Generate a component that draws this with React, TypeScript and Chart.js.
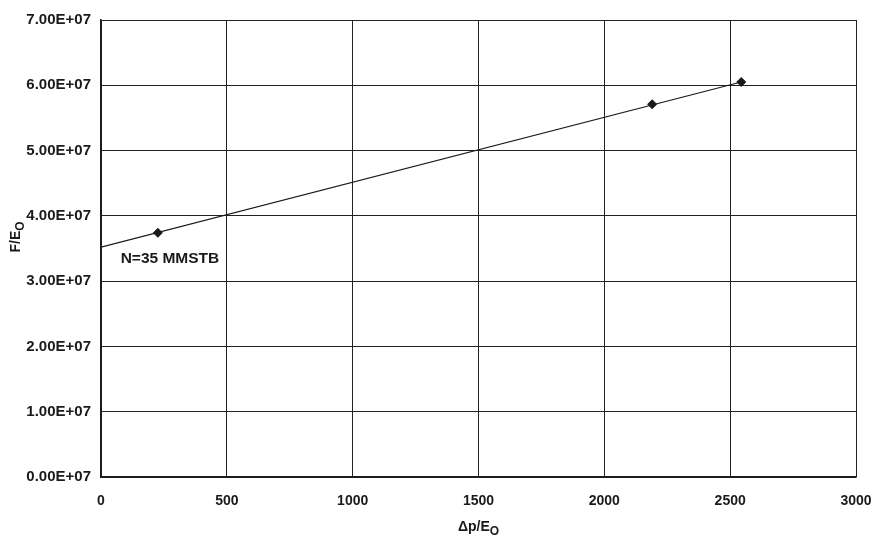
import React, { useEffect, useRef } from "react";
import { Chart, registerables } from "chart.js";

Chart.register(...registerables);

const pointX = [226, 2190, 2544];
const pointY = [3.74e7, 5.71e7, 6.05e7];
const fitX = [0, 2544];
const fitY = [3.52e7, 6.05e7];
const xTicks = [0, 500, 1000, 1500, 2000, 2500, 3000];
const yTicks = [0, 1e7, 2e7, 3e7, 4e7, 5e7, 6e7, 7e7];
const annotationText = "N=35 MMSTB";
const annotationAt = { x: 78, y: 3.35e7 };

const FONT = "'Liberation Sans', Arial, Helvetica, sans-serif";
const INK = "#1a1a1a";
const WEIGHT = "bold";

const titlesPlugin = {
  id: "customTitles",
  afterDraw(chart: any) {
    const ctx = chart.ctx;
    const xs = chart.scales.x;
    const ys = chart.scales.y;
    ctx.save();
    ctx.fillStyle = INK;
    // annotation
    ctx.font = `${WEIGHT} 15.5px ${FONT}`;
    ctx.textAlign = "left";
    ctx.textBaseline = "middle";
    ctx.fillText(annotationText, xs.getPixelForValue(annotationAt.x), ys.getPixelForValue(annotationAt.y));

    // x title: Δp/E with subscript O
    const main = "\u0394p/E";
    const sub = "O";
    ctx.font = `${WEIGHT} 14px ${FONT}`;
    const w1 = ctx.measureText(main).width;
    ctx.font = `${WEIGHT} 12px ${FONT}`;
    const w2 = ctx.measureText(sub).width;
    const cx = (chart.chartArea.left + chart.chartArea.right) / 2;
    const startX = cx - (w1 + w2) / 2;
    const ty = 527;
    ctx.textAlign = "left";
    ctx.textBaseline = "middle";
    ctx.font = `${WEIGHT} 14px ${FONT}`;
    ctx.fillText(main, startX, ty);
    ctx.font = `${WEIGHT} 12px ${FONT}`;
    ctx.fillText(sub, startX + w1, ty + 5);

    // y title: F/E with subscript O, rotated
    const ymain = "F/E";
    ctx.font = `${WEIGHT} 14px ${FONT}`;
    const yw1 = ctx.measureText(ymain).width;
    ctx.font = `${WEIGHT} 12px ${FONT}`;
    const yw2 = ctx.measureText(sub).width;
    ctx.translate(16, 237);
    ctx.rotate(-Math.PI / 2);
    const sx = -(yw1 + yw2) / 2;
    ctx.font = `${WEIGHT} 14px ${FONT}`;
    ctx.fillText(ymain, sx, 0);
    ctx.font = `${WEIGHT} 12px ${FONT}`;
    ctx.fillText(sub, sx + yw1, 5);
    ctx.restore();
  },
};

export default function App() {
  const ref = useRef<HTMLCanvasElement>(null);
  useEffect(() => {
    if (!ref.current) return;
    const chart = new Chart(ref.current, {
      type: "scatter",
      data: {
        datasets: [
          {
            type: "line",
            data: fitX.map((x, i) => ({ x, y: fitY[i] })),
            borderColor: INK,
            borderWidth: 1.2,
            pointRadius: 0,
            showLine: true,
            order: 2,
          } as any,
          {
            data: pointX.map((x, i) => ({ x, y: pointY[i] })),
            backgroundColor: INK,
            borderColor: INK,
            pointStyle: "rectRot",
            pointRadius: 4.5,
            order: 1,
          },
        ],
      },
      options: {
        responsive: false,
        animation: false,
        layout: { padding: { left: 0, right: 18, top: 20, bottom: 0 } },
        plugins: { legend: { display: false }, tooltip: { enabled: false } },
        scales: {
          x: {
            type: "linear",
            min: 0,
            max: 3000,
            afterBuildTicks: (s: any) => {
              s.ticks = xTicks.map((v) => ({ value: v }));
            },
            afterFit: (s: any) => {
              s.height = 60;
              s.paddingRight = 0;
              s.paddingLeft = 0;
            },
            grid: { color: "#222", lineWidth: 1, drawTicks: false },
            border: { color: INK, width: 1.5 },
            ticks: {
              padding: 16,
              color: INK,
              font: { family: FONT, size: 14, weight: "bold" },
              maxRotation: 0,
              callback: (v: any) => String(v),
            },
          },
          y: {
            type: "linear",
            min: 0,
            max: 7e7,
            afterBuildTicks: (s: any) => {
              s.ticks = yTicks.map((v) => ({ value: v }));
            },
            afterFit: (s: any) => {
              s.width = 101;
              s.paddingTop = 0;
              s.paddingBottom = 0;
            },
            grid: { color: "#222", lineWidth: 1, drawTicks: false },
            border: { color: INK, width: 1.5 },
            ticks: {
              padding: 10,
              color: INK,
              font: { family: FONT, size: 15, weight: "bold" },
              callback: (v: any) => (Number(v) / 1e7).toFixed(2) + "E+07",
            },
          },
        },
      },
      plugins: [titlesPlugin],
    });
    return () => chart.destroy();
  }, []);
  return (
    <div style={{ position: "fixed", left: 0, top: 0, width: 874, height: 537, background: "#fff" }}>
      <canvas ref={ref} width={874} height={537} />
    </div>
  );
}
